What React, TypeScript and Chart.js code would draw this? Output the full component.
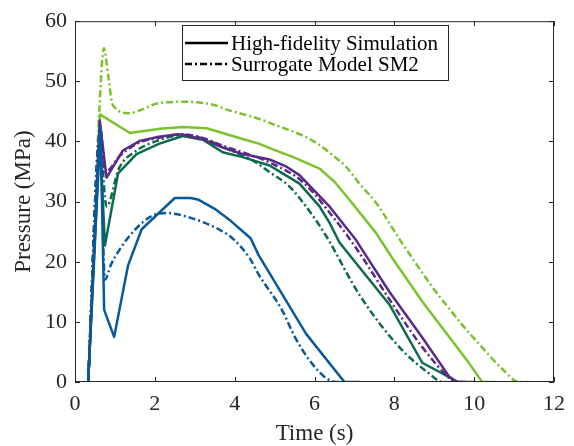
import React, { useEffect, useRef } from "react";
import { Chart, registerables } from "chart.js";

Chart.register(...registerables);

// Time (s) / Pressure (MPa)
const blueHfT = [0.33, 0.64, 0.73, 0.98, 1.33, 1.67, 2.1, 2.5, 2.9, 3.1, 3.5, 3.9, 4.4, 4.6, 5.79, 6.75, 7.15];
const blueHfP = [0, 42.5, 12, 7.5, 19.4, 25.4, 28.1, 30.6, 30.6, 30.3, 28.8, 26.8, 23.9, 21.1, 8.0, 0, 0];
const blueSmT = [0.33, 0.62, 0.75, 0.9, 1.125, 1.5, 1.92, 2.3, 2.9, 3.2, 3.6, 3.96, 4.375, 4.6, 5.2, 5.5, 5.875, 6.3, 6.55, 6.75];
const blueSmP = [0, 41, 17, 19.5, 22.1, 25.3, 27.6, 28.1, 27.3, 26.6, 25.4, 23.8, 20.6, 17.9, 11.8, 7.6, 3.6, 0.6, 0, 0];

const tealHfT = [0.33, 0.62, 0.75, 1.08, 1.54, 2.1, 2.7, 3.2, 3.7, 4.2, 4.875, 5.2, 5.625, 6.125, 6.375, 6.625, 7.875, 8.7, 9.6, 10.05];
const tealHfP = [0, 41, 22.7, 34.7, 37.9, 39.6, 40.9, 40.3, 38.2, 37.4, 36.0, 34.7, 33.0, 29.2, 26.5, 23.2, 12.9, 3.2, 0, 0];
const tealSmT = [0.33, 0.62, 0.79, 1.1, 1.5, 2.1, 2.7, 3.2, 3.8, 4.46, 4.875, 5.375, 5.875, 6.3, 7.125, 8.125, 8.875, 9.2, 9.3];
const tealSmP = [0, 40, 29.2, 35.5, 38.3, 40.2, 41.1, 40.5, 38.8, 36.8, 34.9, 32.5, 28.4, 24.2, 14.5, 5.8, 1.4, 0, 0];

const purpleHfT = [0.33, 0.62, 0.79, 1.2, 1.625, 2.1, 2.6, 3.2, 3.7, 4.2, 4.875, 5.3, 5.625, 6.0, 6.375, 7.04, 7.875, 8.7, 9.375, 9.55, 9.8];
const purpleHfP = [0, 43.5, 34, 38.5, 40.1, 40.8, 41.2, 40.4, 39.0, 37.9, 37.0, 35.8, 34.4, 31.8, 29.2, 23.6, 15, 7.4, 0.9, 0, 0];
const purpleSmT = [0.33, 0.64, 0.75, 1.125, 1.54, 2.1, 2.7, 3.2, 3.7, 4.2, 4.875, 5.7, 6.54, 7.05, 7.96, 8.7, 9.4, 9.5, 9.7];
const purpleSmP = [0, 42, 34.9, 37.6, 39.6, 40.6, 41.2, 40.6, 39.3, 38.2, 36.5, 33.3, 26.8, 22.2, 12.9, 5.8, 0.5, 0, 0];

const limeHfT = [0.33, 0.625, 1.375, 2.125, 2.7, 3.3, 4.2, 4.625, 4.875, 5.5, 6.125, 6.5, 6.875, 7.54, 7.96, 8.7, 9.875, 10.2, 10.55];
const limeHfP = [0, 44.5, 41.4, 42.1, 42.4, 42.2, 40.4, 39.6, 38.9, 37.3, 35.5, 33.3, 30.3, 24.8, 20.5, 13.4, 3.1, 0, 0];
const limeSmT = [0.33, 0.6, 0.725, 0.83, 0.92, 1.0, 1.33, 2.125, 2.8, 3.46, 3.8, 4.54, 4.875, 5.96, 6.625, 6.79, 7.125, 7.54, 8.125, 8.46, 9.04, 9.29, 9.79, 10.125, 10.7, 11.125, 11.4];
const limeSmP = [0, 44, 55.5, 51, 46.6, 45.6, 44.7, 46.4, 46.6, 46.1, 45.3, 43.9, 43.1, 40.1, 36.8, 35.8, 33, 29.8, 23.8, 20.5, 15, 12.9, 8.8, 6.3, 2.2, 0, 0];

const xTicksMin = 0;
const xTicksMax = 12;
const xStep = 2;
const yTicksMin = 0;
const yTicksMax = 60;
const yStep = 10;

const legendLabels = ["High-fidelity Simulation", "Surrogate Model SM2"];
const xTitle = "Time (s)";
const yTitle = "Pressure (MPa)";

const BLUE = "#08599a";
const TEAL = "#0c6a4d";
const PURPLE = "#592a87";
const LIME = "#7cc22e";
const AXIS = "#262626";
const FONT = "'Liberation Serif', 'Times New Roman', serif";
const DASH = [7, 3, 2, 3];

const toPts = (t: number[], p: number[]) => t.map((x, i) => ({ x, y: p[i] }));

const framePlugin = {
  id: "frameTicks",
  afterDatasetsDraw(chart: any) {
    const { ctx, chartArea: a, scales } = chart;
    ctx.save();
    ctx.strokeStyle = AXIS;
    ctx.lineWidth = 1;
    ctx.beginPath();
    ctx.rect(a.left + 0.5, a.top + 0.5, a.right - a.left - 1, a.bottom - a.top - 1);
    const tl = 5;
    for (let v = xTicksMin; v <= xTicksMax; v += xStep) {
      const px = Math.round(scales.x.getPixelForValue(v)) + 0.5;
      ctx.moveTo(px, a.bottom);
      ctx.lineTo(px, a.bottom - tl);
      ctx.moveTo(px, a.top);
      ctx.lineTo(px, a.top + tl);
    }
    for (let v = yTicksMin; v <= yTicksMax; v += yStep) {
      const py = Math.round(scales.y.getPixelForValue(v)) + 0.5;
      ctx.moveTo(a.left, py);
      ctx.lineTo(a.left + tl, py);
      ctx.moveTo(a.right, py);
      ctx.lineTo(a.right - tl, py);
    }
    ctx.stroke();

    // legend box
    const bx = 182.5, by = 25.5, bw = 266, bh = 55;
    ctx.fillStyle = "#ffffff";
    ctx.fillRect(bx, by, bw, bh);
    ctx.strokeStyle = AXIS;
    ctx.lineWidth = 1;
    ctx.strokeRect(bx, by, bw, bh);
    const rows = [43, 64];
    ctx.strokeStyle = "#000";
    ctx.lineWidth = 2.5;
    rows.forEach((ry, i) => {
      ctx.setLineDash(i === 0 ? [] : DASH);
      ctx.beginPath();
      ctx.moveTo(185, ry);
      ctx.lineTo(228, ry);
      ctx.stroke();
    });
    ctx.setLineDash([]);
    ctx.fillStyle = "#000";
    ctx.font = `21px ${FONT}`;
    ctx.textBaseline = "middle";
    ctx.textAlign = "left";
    rows.forEach((ry, i) => ctx.fillText(legendLabels[i], 231, ry + 1));
    ctx.restore();
  },
};

export default function App() {
  const ref = useRef<HTMLCanvasElement>(null);
  useEffect(() => {
    document.body.style.margin = "0";
    const series = [
      { t: blueHfT, p: blueHfP, c: BLUE, sm: false },
      { t: blueSmT, p: blueSmP, c: BLUE, sm: true },
      { t: purpleHfT, p: purpleHfP, c: PURPLE, sm: false },
      { t: purpleSmT, p: purpleSmP, c: PURPLE, sm: true },
      { t: tealHfT, p: tealHfP, c: TEAL, sm: false },
      { t: tealSmT, p: tealSmP, c: TEAL, sm: true },
      { t: limeHfT, p: limeHfP, c: LIME, sm: false },
      { t: limeSmT, p: limeSmP, c: LIME, sm: true },
    ];
    const chart = new Chart(ref.current as HTMLCanvasElement, {
      type: "line",
      data: {
        datasets: series.map((s) => ({
          data: toPts(s.t, s.p),
          borderColor: s.c,
          borderWidth: 2.5,
          borderDash: s.sm ? DASH : [],
          pointRadius: 0,
          fill: false,
          tension: 0,
          cubicInterpolationMode: s.sm ? ("monotone" as const) : ("default" as const),
          borderJoinStyle: "round" as const,
        })),
      },
      options: {
        animation: false,
        responsive: false,
        devicePixelRatio: 1,
        parsing: false as any,
        layout: { padding: { left: 0, right: 19, top: 15, bottom: 0 } },
        plugins: { legend: { display: false }, tooltip: { enabled: false } },
        scales: {
          x: {
            type: "linear",
            min: xTicksMin,
            max: xTicksMax,
            grid: { display: false, drawTicks: false },
            border: { display: false },
            ticks: { stepSize: xStep, color: AXIS, padding: 9, font: { family: FONT, size: 22 } },
            title: { display: true, text: xTitle, color: AXIS, padding: { top: 0, bottom: 1 }, font: { family: FONT, size: 23, lineHeight: 1 } },
            afterFit: (s: any) => { s.height = 64; },
          },
          y: {
            type: "linear",
            min: yTicksMin,
            max: yTicksMax,
            grid: { display: false, drawTicks: false },
            border: { display: false },
            ticks: { stepSize: yStep, color: AXIS, padding: 8, font: { family: FONT, size: 22 } },
            title: { display: true, text: yTitle, color: AXIS, padding: { top: 12, bottom: 0 }, font: { family: FONT, size: 23, lineHeight: 1 } },
            afterFit: (s: any) => { s.width = 75; },
          },
        },
      },
      plugins: [framePlugin],
    });
    return () => chart.destroy();
  }, []);
  return <canvas ref={ref} width={574} height={446} style={{ display: "block" }} />;
}
